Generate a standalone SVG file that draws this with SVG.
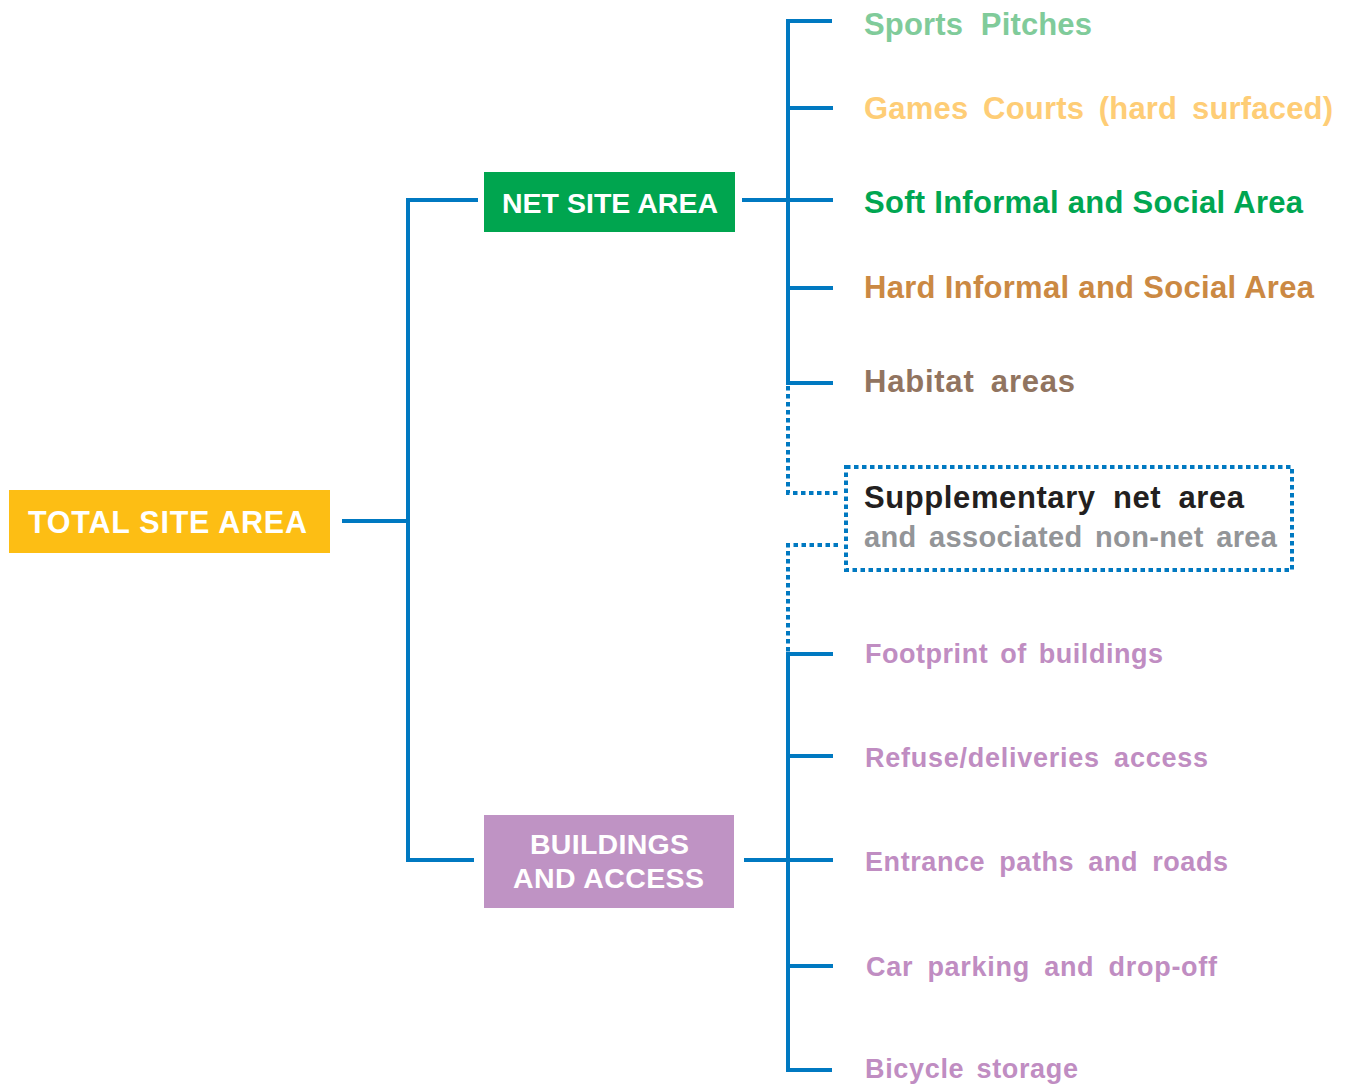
<svg xmlns="http://www.w3.org/2000/svg" width="1351" height="1086" viewBox="0 0 1351 1086">
<style>
.ln{fill:none;stroke:#0079C1;stroke-width:4;stroke-linecap:butt;stroke-linejoin:miter}
.dot{fill:none;stroke:#0079C1;stroke-width:4;stroke-dasharray:4.5 3.5}
text{font-family:"Liberation Sans",Arial,Helvetica,sans-serif;font-weight:bold}
.hd{fill:#fff;font-size:30.5px}
.bx{fill:#fff;font-size:28.5px}
.up{font-size:31px}
.sub{font-size:29px;fill:#939598}
.lo{font-size:27px;fill:#C08DC2}
</style>
<rect width="1351" height="1086" fill="#fff"/>
<g id="connectors">
<path class="ln" d="M342,521H408"/>
<path class="ln" d="M478,200H408V860H474"/>
<path class="ln" d="M742,200H833"/>
<path class="ln" d="M744,860H833"/>
<path class="ln" d="M832,21H788V383H833"/>
<path class="ln" d="M788,108H833M788,288H833"/>
<path class="ln" d="M833,654H788V1070H832"/>
<path class="ln" d="M788,756H833M788,966H833"/>
<path class="dot" d="M788,386V493H838"/>
<path class="dot" d="M838,545H788V652"/>
</g>
<g id="total-site-area">
<rect x="9" y="490" width="321" height="63" fill="#FDBE14"/>
<text class="hd" x="28" y="533" textLength="279" lengthAdjust="spacing">TOTAL SITE AREA</text>
</g>
<g id="net-site-area">
<rect x="484" y="172" width="251" height="60" fill="#00A54F"/>
<text class="bx" x="502" y="213" textLength="216" lengthAdjust="spacing">NET SITE AREA</text>
</g>
<g id="buildings-and-access">
<rect x="484" y="815" width="250" height="93" fill="#BF93C4"/>
<text class="bx" x="530" y="854" textLength="159" lengthAdjust="spacing">BUILDINGS</text>
<text class="bx" x="513" y="888" textLength="191" lengthAdjust="spacing">AND ACCESS</text>
</g>
<g id="sports-pitches">
<text class="up" x="864" y="35" fill="#80CB9A" word-spacing="9" textLength="228" lengthAdjust="spacing">Sports Pitches</text>
</g>
<g id="games-courts">
<text class="up" x="864" y="119" fill="#FECD76" word-spacing="6" textLength="469" lengthAdjust="spacing">Games Courts (hard surfaced)</text>
</g>
<g id="soft-informal">
<text class="up" x="864" y="213" fill="#00A651" textLength="439" lengthAdjust="spacing">Soft Informal and Social Area</text>
</g>
<g id="hard-informal">
<text class="up" x="864" y="298" fill="#CB8943" textLength="450" lengthAdjust="spacing">Hard Informal and Social Area</text>
</g>
<g id="habitat-areas">
<text class="up" x="864" y="392" fill="#917460" word-spacing="7" textLength="211" lengthAdjust="spacing">Habitat areas</text>
</g>
<g id="supplementary">
<rect class="dot" x="846" y="467" width="446" height="103"/>
<text class="up" x="864" y="508" fill="#231F20" word-spacing="8" textLength="380" lengthAdjust="spacing">Supplementary net area</text>
<text class="sub" x="864" y="547" word-spacing="4" textLength="413" lengthAdjust="spacing">and associated non-net area</text>
</g>
<g id="footprint">
<text class="lo" x="865" y="663" word-spacing="4" textLength="298" lengthAdjust="spacing">Footprint of buildings</text>
</g>
<g id="refuse">
<text class="lo" x="865" y="767" word-spacing="6" textLength="343" lengthAdjust="spacing">Refuse/deliveries access</text>
</g>
<g id="entrance">
<text class="lo" x="865" y="871" word-spacing="6" textLength="363" lengthAdjust="spacing">Entrance paths and roads</text>
</g>
<g id="car-parking">
<text class="lo" x="866" y="976" word-spacing="6" textLength="351" lengthAdjust="spacing">Car parking and drop-off</text>
</g>
<g id="bicycle">
<text class="lo" x="865" y="1078" word-spacing="4" textLength="213" lengthAdjust="spacing">Bicycle storage</text>
</g>
</svg>
